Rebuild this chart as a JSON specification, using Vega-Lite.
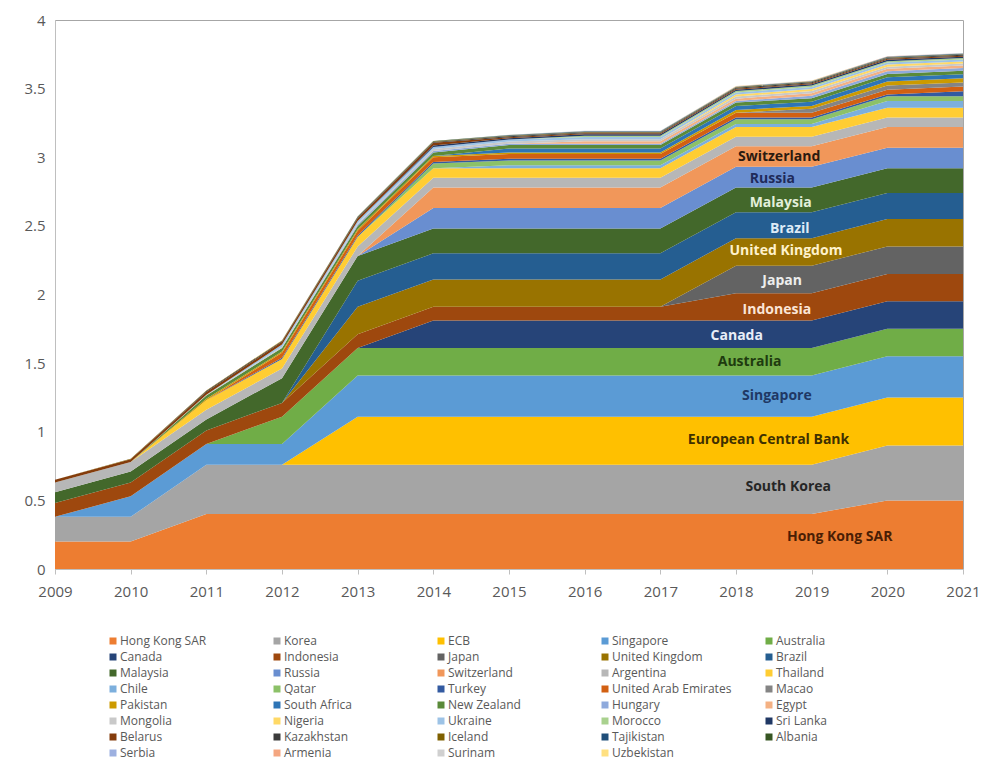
{
"$schema": "https://vega.github.io/schema/vega-lite/v6.json",
"width": 908,
"height": 549,
"autosize": {"type": "none"},
"padding": {"left": 55, "top": 20, "right": 21, "bottom": 193},
"background": "white",
"config": {"view": {"stroke": "#a6a6a6", "strokeWidth": 1}, "font": "Open Sans"},
"resolve": {"scale": {"color": "independent"}},
"datasets": {
"countries": [
{"country":"Hong Kong SAR","rank":1},{"country":"Korea","rank":2},{"country":"ECB","rank":3},{"country":"Singapore","rank":4},{"country":"Australia","rank":5},{"country":"Canada","rank":6},{"country":"Indonesia","rank":7},{"country":"Japan","rank":8},{"country":"United Kingdom","rank":9},{"country":"Brazil","rank":10},{"country":"Malaysia","rank":11},{"country":"Russia","rank":12},{"country":"Switzerland","rank":13},{"country":"Argentina","rank":14},{"country":"Thailand","rank":15},{"country":"Chile","rank":16},{"country":"Qatar","rank":17},{"country":"Turkey","rank":18},{"country":"United Arab Emirates","rank":19},{"country":"Macao","rank":20},{"country":"Pakistan","rank":21},{"country":"South Africa","rank":22},{"country":"New Zealand","rank":23},{"country":"Hungary","rank":24},{"country":"Egypt","rank":25},{"country":"Mongolia","rank":26},{"country":"Nigeria","rank":27},{"country":"Ukraine","rank":28},{"country":"Morocco","rank":29},{"country":"Sri Lanka","rank":30},{"country":"Belarus","rank":31},{"country":"Kazakhstan","rank":32},{"country":"Iceland","rank":33},{"country":"Tajikistan","rank":34},{"country":"Albania","rank":35},{"country":"Serbia","rank":36},{"country":"Armenia","rank":37},{"country":"Surinam","rank":38},{"country":"Uzbekistan","rank":39}
]
},
"layer": [
{
"data": {"values": [
{"year":2009,"country":"Hong Kong SAR","value":0.2},{"year":2010,"country":"Hong Kong SAR","value":0.2},{"year":2011,"country":"Hong Kong SAR","value":0.4},{"year":2012,"country":"Hong Kong SAR","value":0.4},{"year":2013,"country":"Hong Kong SAR","value":0.4},{"year":2014,"country":"Hong Kong SAR","value":0.4},{"year":2015,"country":"Hong Kong SAR","value":0.4},{"year":2016,"country":"Hong Kong SAR","value":0.4},{"year":2017,"country":"Hong Kong SAR","value":0.4},{"year":2018,"country":"Hong Kong SAR","value":0.4},{"year":2019,"country":"Hong Kong SAR","value":0.4},{"year":2020,"country":"Hong Kong SAR","value":0.5},{"year":2021,"country":"Hong Kong SAR","value":0.5},
{"year":2009,"country":"Korea","value":0.18},{"year":2010,"country":"Korea","value":0.18},{"year":2011,"country":"Korea","value":0.36},{"year":2012,"country":"Korea","value":0.36},{"year":2013,"country":"Korea","value":0.36},{"year":2014,"country":"Korea","value":0.36},{"year":2015,"country":"Korea","value":0.36},{"year":2016,"country":"Korea","value":0.36},{"year":2017,"country":"Korea","value":0.36},{"year":2018,"country":"Korea","value":0.36},{"year":2019,"country":"Korea","value":0.36},{"year":2020,"country":"Korea","value":0.4},{"year":2021,"country":"Korea","value":0.4},
{"year":2009,"country":"ECB","value":0},{"year":2010,"country":"ECB","value":0},{"year":2011,"country":"ECB","value":0},{"year":2012,"country":"ECB","value":0},{"year":2013,"country":"ECB","value":0.35},{"year":2014,"country":"ECB","value":0.35},{"year":2015,"country":"ECB","value":0.35},{"year":2016,"country":"ECB","value":0.35},{"year":2017,"country":"ECB","value":0.35},{"year":2018,"country":"ECB","value":0.35},{"year":2019,"country":"ECB","value":0.35},{"year":2020,"country":"ECB","value":0.35},{"year":2021,"country":"ECB","value":0.35},
{"year":2009,"country":"Singapore","value":0},{"year":2010,"country":"Singapore","value":0.15},{"year":2011,"country":"Singapore","value":0.15},{"year":2012,"country":"Singapore","value":0.15},{"year":2013,"country":"Singapore","value":0.3},{"year":2014,"country":"Singapore","value":0.3},{"year":2015,"country":"Singapore","value":0.3},{"year":2016,"country":"Singapore","value":0.3},{"year":2017,"country":"Singapore","value":0.3},{"year":2018,"country":"Singapore","value":0.3},{"year":2019,"country":"Singapore","value":0.3},{"year":2020,"country":"Singapore","value":0.3},{"year":2021,"country":"Singapore","value":0.3},
{"year":2009,"country":"Australia","value":0},{"year":2010,"country":"Australia","value":0},{"year":2011,"country":"Australia","value":0},{"year":2012,"country":"Australia","value":0.2},{"year":2013,"country":"Australia","value":0.2},{"year":2014,"country":"Australia","value":0.2},{"year":2015,"country":"Australia","value":0.2},{"year":2016,"country":"Australia","value":0.2},{"year":2017,"country":"Australia","value":0.2},{"year":2018,"country":"Australia","value":0.2},{"year":2019,"country":"Australia","value":0.2},{"year":2020,"country":"Australia","value":0.2},{"year":2021,"country":"Australia","value":0.2},
{"year":2009,"country":"Canada","value":0},{"year":2010,"country":"Canada","value":0},{"year":2011,"country":"Canada","value":0},{"year":2012,"country":"Canada","value":0},{"year":2013,"country":"Canada","value":0},{"year":2014,"country":"Canada","value":0.2},{"year":2015,"country":"Canada","value":0.2},{"year":2016,"country":"Canada","value":0.2},{"year":2017,"country":"Canada","value":0.2},{"year":2018,"country":"Canada","value":0.2},{"year":2019,"country":"Canada","value":0.2},{"year":2020,"country":"Canada","value":0.2},{"year":2021,"country":"Canada","value":0.2},
{"year":2009,"country":"Indonesia","value":0.1},{"year":2010,"country":"Indonesia","value":0.1},{"year":2011,"country":"Indonesia","value":0.1},{"year":2012,"country":"Indonesia","value":0.1},{"year":2013,"country":"Indonesia","value":0.1},{"year":2014,"country":"Indonesia","value":0.1},{"year":2015,"country":"Indonesia","value":0.1},{"year":2016,"country":"Indonesia","value":0.1},{"year":2017,"country":"Indonesia","value":0.1},{"year":2018,"country":"Indonesia","value":0.2},{"year":2019,"country":"Indonesia","value":0.2},{"year":2020,"country":"Indonesia","value":0.2},{"year":2021,"country":"Indonesia","value":0.2},
{"year":2009,"country":"Japan","value":0},{"year":2010,"country":"Japan","value":0},{"year":2011,"country":"Japan","value":0},{"year":2012,"country":"Japan","value":0},{"year":2013,"country":"Japan","value":0},{"year":2014,"country":"Japan","value":0},{"year":2015,"country":"Japan","value":0},{"year":2016,"country":"Japan","value":0},{"year":2017,"country":"Japan","value":0},{"year":2018,"country":"Japan","value":0.2},{"year":2019,"country":"Japan","value":0.2},{"year":2020,"country":"Japan","value":0.2},{"year":2021,"country":"Japan","value":0.2},
{"year":2009,"country":"United Kingdom","value":0},{"year":2010,"country":"United Kingdom","value":0},{"year":2011,"country":"United Kingdom","value":0},{"year":2012,"country":"United Kingdom","value":0},{"year":2013,"country":"United Kingdom","value":0.2},{"year":2014,"country":"United Kingdom","value":0.2},{"year":2015,"country":"United Kingdom","value":0.2},{"year":2016,"country":"United Kingdom","value":0.2},{"year":2017,"country":"United Kingdom","value":0.2},{"year":2018,"country":"United Kingdom","value":0.2},{"year":2019,"country":"United Kingdom","value":0.2},{"year":2020,"country":"United Kingdom","value":0.2},{"year":2021,"country":"United Kingdom","value":0.2},
{"year":2009,"country":"Brazil","value":0},{"year":2010,"country":"Brazil","value":0},{"year":2011,"country":"Brazil","value":0},{"year":2012,"country":"Brazil","value":0},{"year":2013,"country":"Brazil","value":0.19},{"year":2014,"country":"Brazil","value":0.19},{"year":2015,"country":"Brazil","value":0.19},{"year":2016,"country":"Brazil","value":0.19},{"year":2017,"country":"Brazil","value":0.19},{"year":2018,"country":"Brazil","value":0.19},{"year":2019,"country":"Brazil","value":0.19},{"year":2020,"country":"Brazil","value":0.19},{"year":2021,"country":"Brazil","value":0.19},
{"year":2009,"country":"Malaysia","value":0.08},{"year":2010,"country":"Malaysia","value":0.08},{"year":2011,"country":"Malaysia","value":0.08},{"year":2012,"country":"Malaysia","value":0.18},{"year":2013,"country":"Malaysia","value":0.18},{"year":2014,"country":"Malaysia","value":0.18},{"year":2015,"country":"Malaysia","value":0.18},{"year":2016,"country":"Malaysia","value":0.18},{"year":2017,"country":"Malaysia","value":0.18},{"year":2018,"country":"Malaysia","value":0.18},{"year":2019,"country":"Malaysia","value":0.18},{"year":2020,"country":"Malaysia","value":0.18},{"year":2021,"country":"Malaysia","value":0.18},
{"year":2009,"country":"Russia","value":0},{"year":2010,"country":"Russia","value":0},{"year":2011,"country":"Russia","value":0},{"year":2012,"country":"Russia","value":0},{"year":2013,"country":"Russia","value":0},{"year":2014,"country":"Russia","value":0.15},{"year":2015,"country":"Russia","value":0.15},{"year":2016,"country":"Russia","value":0.15},{"year":2017,"country":"Russia","value":0.15},{"year":2018,"country":"Russia","value":0.15},{"year":2019,"country":"Russia","value":0.15},{"year":2020,"country":"Russia","value":0.15},{"year":2021,"country":"Russia","value":0.15},
{"year":2009,"country":"Switzerland","value":0},{"year":2010,"country":"Switzerland","value":0},{"year":2011,"country":"Switzerland","value":0},{"year":2012,"country":"Switzerland","value":0},{"year":2013,"country":"Switzerland","value":0},{"year":2014,"country":"Switzerland","value":0.15},{"year":2015,"country":"Switzerland","value":0.15},{"year":2016,"country":"Switzerland","value":0.15},{"year":2017,"country":"Switzerland","value":0.15},{"year":2018,"country":"Switzerland","value":0.15},{"year":2019,"country":"Switzerland","value":0.15},{"year":2020,"country":"Switzerland","value":0.15},{"year":2021,"country":"Switzerland","value":0.15},
{"year":2009,"country":"Argentina","value":0.07},{"year":2010,"country":"Argentina","value":0.07},{"year":2011,"country":"Argentina","value":0.07},{"year":2012,"country":"Argentina","value":0.07},{"year":2013,"country":"Argentina","value":0.07},{"year":2014,"country":"Argentina","value":0.07},{"year":2015,"country":"Argentina","value":0.07},{"year":2016,"country":"Argentina","value":0.07},{"year":2017,"country":"Argentina","value":0.07},{"year":2018,"country":"Argentina","value":0.07},{"year":2019,"country":"Argentina","value":0.07},{"year":2020,"country":"Argentina","value":0.07},{"year":2021,"country":"Argentina","value":0.07},
{"year":2009,"country":"Thailand","value":0},{"year":2010,"country":"Thailand","value":0},{"year":2011,"country":"Thailand","value":0.07},{"year":2012,"country":"Thailand","value":0.07},{"year":2013,"country":"Thailand","value":0.07},{"year":2014,"country":"Thailand","value":0.07},{"year":2015,"country":"Thailand","value":0.07},{"year":2016,"country":"Thailand","value":0.07},{"year":2017,"country":"Thailand","value":0.07},{"year":2018,"country":"Thailand","value":0.07},{"year":2019,"country":"Thailand","value":0.07},{"year":2020,"country":"Thailand","value":0.07},{"year":2021,"country":"Thailand","value":0.07},
{"year":2009,"country":"Chile","value":0},{"year":2010,"country":"Chile","value":0},{"year":2011,"country":"Chile","value":0},{"year":2012,"country":"Chile","value":0},{"year":2013,"country":"Chile","value":0},{"year":2014,"country":"Chile","value":0},{"year":2015,"country":"Chile","value":0.022},{"year":2016,"country":"Chile","value":0.022},{"year":2017,"country":"Chile","value":0.022},{"year":2018,"country":"Chile","value":0.022},{"year":2019,"country":"Chile","value":0.022},{"year":2020,"country":"Chile","value":0.05},{"year":2021,"country":"Chile","value":0.05},
{"year":2009,"country":"Qatar","value":0},{"year":2010,"country":"Qatar","value":0},{"year":2011,"country":"Qatar","value":0},{"year":2012,"country":"Qatar","value":0},{"year":2013,"country":"Qatar","value":0},{"year":2014,"country":"Qatar","value":0.035},{"year":2015,"country":"Qatar","value":0.035},{"year":2016,"country":"Qatar","value":0.035},{"year":2017,"country":"Qatar","value":0.035},{"year":2018,"country":"Qatar","value":0.035},{"year":2019,"country":"Qatar","value":0.035},{"year":2020,"country":"Qatar","value":0.035},{"year":2021,"country":"Qatar","value":0.035},
{"year":2009,"country":"Turkey","value":0},{"year":2010,"country":"Turkey","value":0},{"year":2011,"country":"Turkey","value":0},{"year":2012,"country":"Turkey","value":0.01},{"year":2013,"country":"Turkey","value":0.01},{"year":2014,"country":"Turkey","value":0.01},{"year":2015,"country":"Turkey","value":0.012},{"year":2016,"country":"Turkey","value":0.012},{"year":2017,"country":"Turkey","value":0.012},{"year":2018,"country":"Turkey","value":0.012},{"year":2019,"country":"Turkey","value":0.012},{"year":2020,"country":"Turkey","value":0.012},{"year":2021,"country":"Turkey","value":0.035},
{"year":2009,"country":"United Arab Emirates","value":0},{"year":2010,"country":"United Arab Emirates","value":0},{"year":2011,"country":"United Arab Emirates","value":0},{"year":2012,"country":"United Arab Emirates","value":0.035},{"year":2013,"country":"United Arab Emirates","value":0.035},{"year":2014,"country":"United Arab Emirates","value":0.035},{"year":2015,"country":"United Arab Emirates","value":0.035},{"year":2016,"country":"United Arab Emirates","value":0.035},{"year":2017,"country":"United Arab Emirates","value":0.035},{"year":2018,"country":"United Arab Emirates","value":0.035},{"year":2019,"country":"United Arab Emirates","value":0.035},{"year":2020,"country":"United Arab Emirates","value":0.035},{"year":2021,"country":"United Arab Emirates","value":0.035},
{"year":2009,"country":"Macao","value":0},{"year":2010,"country":"Macao","value":0},{"year":2011,"country":"Macao","value":0},{"year":2012,"country":"Macao","value":0},{"year":2013,"country":"Macao","value":0},{"year":2014,"country":"Macao","value":0},{"year":2015,"country":"Macao","value":0},{"year":2016,"country":"Macao","value":0},{"year":2017,"country":"Macao","value":0},{"year":2018,"country":"Macao","value":0},{"year":2019,"country":"Macao","value":0.03},{"year":2020,"country":"Macao","value":0.03},{"year":2021,"country":"Macao","value":0.03},
{"year":2009,"country":"Pakistan","value":0},{"year":2010,"country":"Pakistan","value":0},{"year":2011,"country":"Pakistan","value":0.01},{"year":2012,"country":"Pakistan","value":0.01},{"year":2013,"country":"Pakistan","value":0.01},{"year":2014,"country":"Pakistan","value":0.01},{"year":2015,"country":"Pakistan","value":0.01},{"year":2016,"country":"Pakistan","value":0.01},{"year":2017,"country":"Pakistan","value":0.01},{"year":2018,"country":"Pakistan","value":0.02},{"year":2019,"country":"Pakistan","value":0.02},{"year":2020,"country":"Pakistan","value":0.03},{"year":2021,"country":"Pakistan","value":0.03},
{"year":2009,"country":"South Africa","value":0},{"year":2010,"country":"South Africa","value":0},{"year":2011,"country":"South Africa","value":0},{"year":2012,"country":"South Africa","value":0},{"year":2013,"country":"South Africa","value":0},{"year":2014,"country":"South Africa","value":0},{"year":2015,"country":"South Africa","value":0.03},{"year":2016,"country":"South Africa","value":0.03},{"year":2017,"country":"South Africa","value":0.03},{"year":2018,"country":"South Africa","value":0.03},{"year":2019,"country":"South Africa","value":0.03},{"year":2020,"country":"South Africa","value":0.03},{"year":2021,"country":"South Africa","value":0.03},
{"year":2009,"country":"New Zealand","value":0},{"year":2010,"country":"New Zealand","value":0},{"year":2011,"country":"New Zealand","value":0.025},{"year":2012,"country":"New Zealand","value":0.025},{"year":2013,"country":"New Zealand","value":0.025},{"year":2014,"country":"New Zealand","value":0.025},{"year":2015,"country":"New Zealand","value":0.025},{"year":2016,"country":"New Zealand","value":0.025},{"year":2017,"country":"New Zealand","value":0.025},{"year":2018,"country":"New Zealand","value":0.025},{"year":2019,"country":"New Zealand","value":0.025},{"year":2020,"country":"New Zealand","value":0.025},{"year":2021,"country":"New Zealand","value":0.025},
{"year":2009,"country":"Hungary","value":0},{"year":2010,"country":"Hungary","value":0},{"year":2011,"country":"Hungary","value":0},{"year":2012,"country":"Hungary","value":0},{"year":2013,"country":"Hungary","value":0.01},{"year":2014,"country":"Hungary","value":0.01},{"year":2015,"country":"Hungary","value":0.01},{"year":2016,"country":"Hungary","value":0.01},{"year":2017,"country":"Hungary","value":0.01},{"year":2018,"country":"Hungary","value":0.01},{"year":2019,"country":"Hungary","value":0.02},{"year":2020,"country":"Hungary","value":0.02},{"year":2021,"country":"Hungary","value":0.02},
{"year":2009,"country":"Egypt","value":0},{"year":2010,"country":"Egypt","value":0},{"year":2011,"country":"Egypt","value":0},{"year":2012,"country":"Egypt","value":0},{"year":2013,"country":"Egypt","value":0},{"year":2014,"country":"Egypt","value":0},{"year":2015,"country":"Egypt","value":0},{"year":2016,"country":"Egypt","value":0.018},{"year":2017,"country":"Egypt","value":0.018},{"year":2018,"country":"Egypt","value":0.018},{"year":2019,"country":"Egypt","value":0.018},{"year":2020,"country":"Egypt","value":0.018},{"year":2021,"country":"Egypt","value":0.018},
{"year":2009,"country":"Mongolia","value":0},{"year":2010,"country":"Mongolia","value":0},{"year":2011,"country":"Mongolia","value":0.005},{"year":2012,"country":"Mongolia","value":0.01},{"year":2013,"country":"Mongolia","value":0.01},{"year":2014,"country":"Mongolia","value":0.015},{"year":2015,"country":"Mongolia","value":0.015},{"year":2016,"country":"Mongolia","value":0.015},{"year":2017,"country":"Mongolia","value":0.015},{"year":2018,"country":"Mongolia","value":0.015},{"year":2019,"country":"Mongolia","value":0.015},{"year":2020,"country":"Mongolia","value":0.015},{"year":2021,"country":"Mongolia","value":0.015},
{"year":2009,"country":"Nigeria","value":0},{"year":2010,"country":"Nigeria","value":0},{"year":2011,"country":"Nigeria","value":0},{"year":2012,"country":"Nigeria","value":0},{"year":2013,"country":"Nigeria","value":0},{"year":2014,"country":"Nigeria","value":0},{"year":2015,"country":"Nigeria","value":0},{"year":2016,"country":"Nigeria","value":0},{"year":2017,"country":"Nigeria","value":0},{"year":2018,"country":"Nigeria","value":0.015},{"year":2019,"country":"Nigeria","value":0.015},{"year":2020,"country":"Nigeria","value":0.015},{"year":2021,"country":"Nigeria","value":0.015},
{"year":2009,"country":"Ukraine","value":0},{"year":2010,"country":"Ukraine","value":0},{"year":2011,"country":"Ukraine","value":0},{"year":2012,"country":"Ukraine","value":0.015},{"year":2013,"country":"Ukraine","value":0.015},{"year":2014,"country":"Ukraine","value":0.015},{"year":2015,"country":"Ukraine","value":0.015},{"year":2016,"country":"Ukraine","value":0.015},{"year":2017,"country":"Ukraine","value":0.015},{"year":2018,"country":"Ukraine","value":0.015},{"year":2019,"country":"Ukraine","value":0.015},{"year":2020,"country":"Ukraine","value":0.015},{"year":2021,"country":"Ukraine","value":0.015},
{"year":2009,"country":"Morocco","value":0},{"year":2010,"country":"Morocco","value":0},{"year":2011,"country":"Morocco","value":0},{"year":2012,"country":"Morocco","value":0},{"year":2013,"country":"Morocco","value":0},{"year":2014,"country":"Morocco","value":0},{"year":2015,"country":"Morocco","value":0},{"year":2016,"country":"Morocco","value":0.01},{"year":2017,"country":"Morocco","value":0.01},{"year":2018,"country":"Morocco","value":0.01},{"year":2019,"country":"Morocco","value":0.01},{"year":2020,"country":"Morocco","value":0.01},{"year":2021,"country":"Morocco","value":0.01},
{"year":2009,"country":"Sri Lanka","value":0},{"year":2010,"country":"Sri Lanka","value":0},{"year":2011,"country":"Sri Lanka","value":0},{"year":2012,"country":"Sri Lanka","value":0},{"year":2013,"country":"Sri Lanka","value":0},{"year":2014,"country":"Sri Lanka","value":0.01},{"year":2015,"country":"Sri Lanka","value":0.01},{"year":2016,"country":"Sri Lanka","value":0.01},{"year":2017,"country":"Sri Lanka","value":0.01},{"year":2018,"country":"Sri Lanka","value":0.01},{"year":2019,"country":"Sri Lanka","value":0.01},{"year":2020,"country":"Sri Lanka","value":0.01},{"year":2021,"country":"Sri Lanka","value":0.01},
{"year":2009,"country":"Belarus","value":0.02},{"year":2010,"country":"Belarus","value":0.02},{"year":2011,"country":"Belarus","value":0.02},{"year":2012,"country":"Belarus","value":0.02},{"year":2013,"country":"Belarus","value":0.02},{"year":2014,"country":"Belarus","value":0.02},{"year":2015,"country":"Belarus","value":0.007},{"year":2016,"country":"Belarus","value":0.007},{"year":2017,"country":"Belarus","value":0.007},{"year":2018,"country":"Belarus","value":0.007},{"year":2019,"country":"Belarus","value":0.007},{"year":2020,"country":"Belarus","value":0.007},{"year":2021,"country":"Belarus","value":0.007},
{"year":2009,"country":"Kazakhstan","value":0},{"year":2010,"country":"Kazakhstan","value":0},{"year":2011,"country":"Kazakhstan","value":0.007},{"year":2012,"country":"Kazakhstan","value":0.007},{"year":2013,"country":"Kazakhstan","value":0.007},{"year":2014,"country":"Kazakhstan","value":0.007},{"year":2015,"country":"Kazakhstan","value":0.007},{"year":2016,"country":"Kazakhstan","value":0.007},{"year":2017,"country":"Kazakhstan","value":0.007},{"year":2018,"country":"Kazakhstan","value":0.007},{"year":2019,"country":"Kazakhstan","value":0.007},{"year":2020,"country":"Kazakhstan","value":0.007},{"year":2021,"country":"Kazakhstan","value":0.007},
{"year":2009,"country":"Iceland","value":0},{"year":2010,"country":"Iceland","value":0.0035},{"year":2011,"country":"Iceland","value":0.0035},{"year":2012,"country":"Iceland","value":0.0035},{"year":2013,"country":"Iceland","value":0.0035},{"year":2014,"country":"Iceland","value":0.0035},{"year":2015,"country":"Iceland","value":0.0035},{"year":2016,"country":"Iceland","value":0.0035},{"year":2017,"country":"Iceland","value":0.0035},{"year":2018,"country":"Iceland","value":0.0035},{"year":2019,"country":"Iceland","value":0.0035},{"year":2020,"country":"Iceland","value":0.0035},{"year":2021,"country":"Iceland","value":0.0035},
{"year":2009,"country":"Tajikistan","value":0},{"year":2010,"country":"Tajikistan","value":0},{"year":2011,"country":"Tajikistan","value":0},{"year":2012,"country":"Tajikistan","value":0},{"year":2013,"country":"Tajikistan","value":0},{"year":2014,"country":"Tajikistan","value":0},{"year":2015,"country":"Tajikistan","value":0.003},{"year":2016,"country":"Tajikistan","value":0.003},{"year":2017,"country":"Tajikistan","value":0.003},{"year":2018,"country":"Tajikistan","value":0.003},{"year":2019,"country":"Tajikistan","value":0.003},{"year":2020,"country":"Tajikistan","value":0.003},{"year":2021,"country":"Tajikistan","value":0.003},
{"year":2009,"country":"Albania","value":0},{"year":2010,"country":"Albania","value":0},{"year":2011,"country":"Albania","value":0},{"year":2012,"country":"Albania","value":0},{"year":2013,"country":"Albania","value":0.002},{"year":2014,"country":"Albania","value":0.002},{"year":2015,"country":"Albania","value":0.002},{"year":2016,"country":"Albania","value":0.002},{"year":2017,"country":"Albania","value":0.002},{"year":2018,"country":"Albania","value":0.002},{"year":2019,"country":"Albania","value":0.002},{"year":2020,"country":"Albania","value":0.002},{"year":2021,"country":"Albania","value":0.002},
{"year":2009,"country":"Serbia","value":0},{"year":2010,"country":"Serbia","value":0},{"year":2011,"country":"Serbia","value":0},{"year":2012,"country":"Serbia","value":0},{"year":2013,"country":"Serbia","value":0},{"year":2014,"country":"Serbia","value":0},{"year":2015,"country":"Serbia","value":0},{"year":2016,"country":"Serbia","value":0.0015},{"year":2017,"country":"Serbia","value":0.0015},{"year":2018,"country":"Serbia","value":0.0015},{"year":2019,"country":"Serbia","value":0.0015},{"year":2020,"country":"Serbia","value":0.0015},{"year":2021,"country":"Serbia","value":0.0015},
{"year":2009,"country":"Armenia","value":0},{"year":2010,"country":"Armenia","value":0},{"year":2011,"country":"Armenia","value":0},{"year":2012,"country":"Armenia","value":0},{"year":2013,"country":"Armenia","value":0},{"year":2014,"country":"Armenia","value":0},{"year":2015,"country":"Armenia","value":0.001},{"year":2016,"country":"Armenia","value":0.001},{"year":2017,"country":"Armenia","value":0.001},{"year":2018,"country":"Armenia","value":0.001},{"year":2019,"country":"Armenia","value":0.001},{"year":2020,"country":"Armenia","value":0.001},{"year":2021,"country":"Armenia","value":0.001},
{"year":2009,"country":"Surinam","value":0},{"year":2010,"country":"Surinam","value":0},{"year":2011,"country":"Surinam","value":0},{"year":2012,"country":"Surinam","value":0},{"year":2013,"country":"Surinam","value":0},{"year":2014,"country":"Surinam","value":0},{"year":2015,"country":"Surinam","value":0.001},{"year":2016,"country":"Surinam","value":0.001},{"year":2017,"country":"Surinam","value":0.001},{"year":2018,"country":"Surinam","value":0.001},{"year":2019,"country":"Surinam","value":0.001},{"year":2020,"country":"Surinam","value":0.001},{"year":2021,"country":"Surinam","value":0.001},
{"year":2009,"country":"Uzbekistan","value":0},{"year":2010,"country":"Uzbekistan","value":0},{"year":2011,"country":"Uzbekistan","value":0.0007},{"year":2012,"country":"Uzbekistan","value":0.0007},{"year":2013,"country":"Uzbekistan","value":0.0007},{"year":2014,"country":"Uzbekistan","value":0.0007},{"year":2015,"country":"Uzbekistan","value":0.0007},{"year":2016,"country":"Uzbekistan","value":0.0007},{"year":2017,"country":"Uzbekistan","value":0.0007},{"year":2018,"country":"Uzbekistan","value":0.0007},{"year":2019,"country":"Uzbekistan","value":0.0007},{"year":2020,"country":"Uzbekistan","value":0.0007},{"year":2021,"country":"Uzbekistan","value":0.0007}
]},
"transform": [{"lookup": "country", "from": {"data": {"name": "countries"}, "key": "country", "fields": ["rank"]}}],
"mark": {"type": "area", "interpolate": "linear"},
"encoding": {
"x": {"field": "year", "type": "quantitative", "scale": {"domain": [2009, 2021], "nice": false, "zero": false},
"axis": {"values": [2009,2010,2011,2012,2013,2014,2015,2016,2017,2018,2019,2020,2021], "format": "d", "title": null, "grid": false, "labelFlush": false, "labelFontSize": 15, "labelColor": "#595959", "tickColor": "#bfbfbf", "domainColor": "#bfbfbf", "tickSize": 5, "labelPadding": 10, "labelFont": "Open Sans"}},
"y": {"field": "value", "type": "quantitative", "stack": "zero", "scale": {"domain": [0, 4], "nice": false},
"axis": {"values": [0,0.5,1,1.5,2,2.5,3,3.5,4], "format": "~g", "title": null, "grid": false, "ticks": false, "labelFlush": false, "labelFontSize": 15, "labelColor": "#595959", "domainColor": "#bfbfbf", "labelPadding": 10, "labelFont": "Open Sans"}},
"order": {"field": "rank", "type": "quantitative", "sort": "ascending"},
"color": {"field": "country", "type": "nominal",
"sort": ["Hong Kong SAR","Korea","ECB","Singapore","Australia","Canada","Indonesia","Japan","United Kingdom","Brazil","Malaysia","Russia","Switzerland","Argentina","Thailand","Chile","Qatar","Turkey","United Arab Emirates","Macao","Pakistan","South Africa","New Zealand","Hungary","Egypt","Mongolia","Nigeria","Ukraine","Morocco","Sri Lanka","Belarus","Kazakhstan","Iceland","Tajikistan","Albania","Serbia","Armenia","Surinam","Uzbekistan"],
"scale": {"domain": ["Hong Kong SAR","Korea","ECB","Singapore","Australia","Canada","Indonesia","Japan","United Kingdom","Brazil","Malaysia","Russia","Switzerland","Argentina","Thailand","Chile","Qatar","Turkey","United Arab Emirates","Macao","Pakistan","South Africa","New Zealand","Hungary","Egypt","Mongolia","Nigeria","Ukraine","Morocco","Sri Lanka","Belarus","Kazakhstan","Iceland","Tajikistan","Albania","Serbia","Armenia","Surinam","Uzbekistan"],
"range": ["#ED7D31","#A5A5A5","#FFC000","#5B9BD5","#70AD47","#264478","#9E480E","#636363","#997300","#255E91","#43682B","#698ED0","#F1975A","#B7B7B7","#FFCD33","#7CAFDD","#8CC168","#335AA1","#D26012","#848484","#CC9A00","#2E75B6","#5A8A39","#8FAADC","#F4B183","#C9C9C9","#FFD966","#9DC3E6","#A9D18E","#203864","#843C0C","#3B3B3B","#7F6000","#1F4E79","#375623","#9DB0E0","#F4A680","#D0D0D0","#FFE080"]},
"legend": {"orient": "none", "legendX": 52, "legendY": 615, "columns": 5, "direction": "horizontal", "title": null, "symbolType": "square", "symbolSize": 49, "symbolStrokeWidth": 0, "symbolLimit": 100, "labelFontSize": 12, "labelColor": "#595959", "labelFont": "Open Sans", "labelOffset": 1, "gridAlign": "all", "columnPadding": 31, "rowPadding": 4, "padding": 0, "labelLimit": 220}}
}
},
{
"data": {"values": [
{"label": "Switzerland", "year": 2018.57, "value": 3.0},
{"label": "Russia", "year": 2018.48, "value": 2.84},
{"label": "Malaysia", "year": 2018.59, "value": 2.67},
{"label": "Brazil", "year": 2018.71, "value": 2.48},
{"label": "United Kingdom", "year": 2018.66, "value": 2.32},
{"label": "Japan", "year": 2018.61, "value": 2.10},
{"label": "Indonesia", "year": 2018.54, "value": 1.89},
{"label": "Canada", "year": 2018.01, "value": 1.70},
{"label": "Australia", "year": 2018.18, "value": 1.51},
{"label": "Singapore", "year": 2018.54, "value": 1.26},
{"label": "European Central Bank", "year": 2018.43, "value": 0.94},
{"label": "South Korea", "year": 2018.69, "value": 0.60},
{"label": "Hong Kong SAR", "year": 2019.37, "value": 0.23}
]},
"mark": {"type": "text", "font": "Open Sans", "fontWeight": "bold", "fontSize": 14, "align": "center", "baseline": "middle"},
"encoding": {
"x": {"field": "year", "type": "quantitative"},
"y": {"field": "value", "type": "quantitative"},
"text": {"field": "label"},
"color": {"field": "label", "type": "nominal", "legend": null,
"scale": {"domain": ["Switzerland","Russia","Malaysia","Brazil","United Kingdom","Japan","Indonesia","Canada","Australia","Singapore","European Central Bank","South Korea","Hong Kong SAR"],
"range": ["#2b1a0f","#1f2a5a","#e2efda","#ddebf7","#fff2cc","#ededed","#fbe5d6","#e8eef8","#1e3b0f","#1f3864","#3f3000","#262626","#4a1e05"]}}
}
}
]
}
